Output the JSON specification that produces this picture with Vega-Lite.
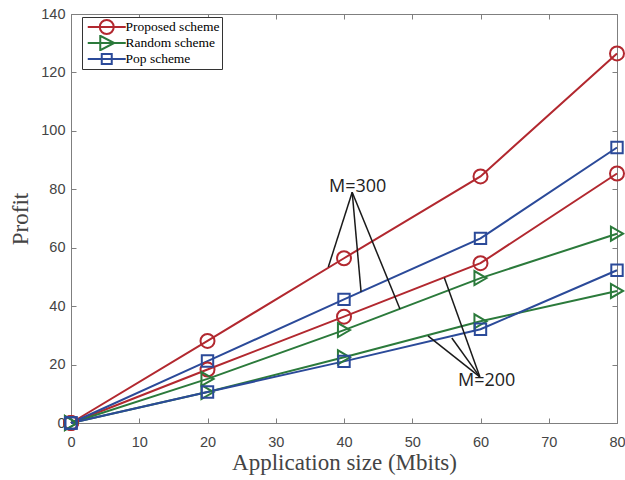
{
  "$schema": "https://vega.github.io/schema/vega-lite/v6.json",
  "width": 546,
  "height": 409,
  "autosize": "none",
  "padding": {"left": 71, "top": 14, "right": 8, "bottom": 57},
  "background": "white",
  "config": {
    "view": {"stroke": "#7f7f7f", "strokeWidth": 1},
    "axis": {
      "domainColor": "#7f7f7f",
      "tickColor": "#7f7f7f",
      "grid": false,
      "labelFlush": false,
      "labelFont": "Liberation Sans",
      "labelFontSize": 14.5,
      "labelColor": "#444444",
      "titleFont": "Liberation Serif",
      "titleFontSize": 23,
      "titleFontWeight": "normal",
      "titleColor": "#444444"
    }
  },
  "layer": [
    {
      "data": {"values": [
        {"scheme": "Proposed scheme", "M": 300, "x": 0, "y": 0},
        {"scheme": "Proposed scheme", "M": 300, "x": 20, "y": 28.1},
        {"scheme": "Proposed scheme", "M": 300, "x": 40, "y": 56.4},
        {"scheme": "Proposed scheme", "M": 300, "x": 60, "y": 84.4},
        {"scheme": "Proposed scheme", "M": 300, "x": 80, "y": 126.5},
        {"scheme": "Proposed scheme", "M": 200, "x": 0, "y": 0},
        {"scheme": "Proposed scheme", "M": 200, "x": 20, "y": 18.3},
        {"scheme": "Proposed scheme", "M": 200, "x": 40, "y": 36.4},
        {"scheme": "Proposed scheme", "M": 200, "x": 60, "y": 54.7},
        {"scheme": "Proposed scheme", "M": 200, "x": 80, "y": 85.4},
        {"scheme": "Random scheme", "M": 300, "x": 0, "y": 0},
        {"scheme": "Random scheme", "M": 300, "x": 20, "y": 15.1},
        {"scheme": "Random scheme", "M": 300, "x": 40, "y": 31.8},
        {"scheme": "Random scheme", "M": 300, "x": 60, "y": 49.6},
        {"scheme": "Random scheme", "M": 300, "x": 80, "y": 64.8},
        {"scheme": "Random scheme", "M": 200, "x": 0, "y": 0},
        {"scheme": "Random scheme", "M": 200, "x": 20, "y": 10.6},
        {"scheme": "Random scheme", "M": 200, "x": 40, "y": 22.5},
        {"scheme": "Random scheme", "M": 200, "x": 60, "y": 34.8},
        {"scheme": "Random scheme", "M": 200, "x": 80, "y": 45.2},
        {"scheme": "Pop scheme", "M": 300, "x": 0, "y": 0},
        {"scheme": "Pop scheme", "M": 300, "x": 20, "y": 21.2},
        {"scheme": "Pop scheme", "M": 300, "x": 40, "y": 42.3},
        {"scheme": "Pop scheme", "M": 300, "x": 60, "y": 63.2},
        {"scheme": "Pop scheme", "M": 300, "x": 80, "y": 94.3},
        {"scheme": "Pop scheme", "M": 200, "x": 0, "y": 0},
        {"scheme": "Pop scheme", "M": 200, "x": 20, "y": 10.6},
        {"scheme": "Pop scheme", "M": 200, "x": 40, "y": 21.1},
        {"scheme": "Pop scheme", "M": 200, "x": 60, "y": 32.1},
        {"scheme": "Pop scheme", "M": 200, "x": 80, "y": 52.3}
      ]},
      "layer": [
        {
          "mark": {"type": "line", "strokeWidth": 2},
          "encoding": {
            "x": {"field": "x", "type": "quantitative", "scale": {"domain": [0, 80], "nice": false},
                  "axis": {"title": "Application size (Mbits)", "values": [0,10,20,30,40,50,60,70,80], "tickSize": -5, "labelPadding": 17, "titlePadding": 3}},
            "y": {"field": "y", "type": "quantitative", "scale": {"domain": [0, 140], "nice": false},
                  "axis": {"title": "Profit", "values": [0,20,40,60,80,100,120,140], "tickSize": -5, "labelPadding": 11, "titlePadding": 8}},
            "color": {"field": "scheme", "type": "nominal",
              "scale": {"domain": ["Proposed scheme", "Random scheme", "Pop scheme"], "range": ["#b2282f", "#2b7a3b", "#2b4a99"]},
              "legend": {
                "title": null,
                "orient": "none",
                "legendX": 11,
                "legendY": 3,
                "fillColor": "white",
                "strokeColor": "#333333",
                "padding": 2,
                "rowPadding": 0,
                "clipHeight": 16,
                "labelFont": "Liberation Serif",
                "labelFontSize": 13.5,
                "labelColor": "#000000",
                "labelOffset": 12,
                "symbolOffset": 16,
                "symbolSize": 100,
                "symbolStrokeWidth": 2,
                "symbolFillColor": "transparent",
                "symbolType": {"expr": "datum.value === 'Proposed scheme' ? 'M-3.8,0H3.8M-1.4,0C-1.4,-0.77 -0.77,-1.4 0,-1.4C0.77,-1.4 1.4,-0.77 1.4,0C1.4,0.77 0.77,1.4 0,1.4C-0.77,1.4 -1.4,0.77 -1.4,0Z' : (datum.value === 'Random scheme' ? 'M-3.8,0H3.8M-1.3,-1.45L1.5,0L-1.3,1.45Z' : 'M-3.8,0H3.8M-1.0,-1.0H1.0V1.0H-1.0Z')"}
              }
            },
            "detail": {"field": "M", "type": "nominal"}
          }
        },
        {
          "transform": [{"filter": "datum.scheme === 'Proposed scheme'"}],
          "mark": {"type": "point", "shape": "circle", "size": 196, "filled": false, "strokeWidth": 2, "opacity": 1, "color": "#b2282f"},
          "encoding": {
            "x": {"field": "x", "type": "quantitative"},
            "y": {"field": "y", "type": "quantitative"}
          }
        },
        {
          "transform": [{"filter": "datum.scheme === 'Random scheme'"}],
          "mark": {"type": "point", "shape": "triangle-right", "size": 196, "filled": false, "strokeWidth": 2, "opacity": 1, "color": "#2b7a3b"},
          "encoding": {
            "x": {"field": "x", "type": "quantitative"},
            "y": {"field": "y", "type": "quantitative"}
          }
        },
        {
          "transform": [{"filter": "datum.scheme === 'Pop scheme'"}],
          "mark": {"type": "point", "shape": "square", "size": 130, "filled": false, "strokeWidth": 2, "opacity": 1, "color": "#2b4a99"},
          "encoding": {
            "x": {"field": "x", "type": "quantitative"},
            "y": {"field": "y", "type": "quantitative"}
          }
        }
      ]
    },
    {
      "data": {"values": [
        {"x": 41.2, "y": 79.0, "x2": 37.7, "y2": 53.4},
        {"x": 41.2, "y": 79.0, "x2": 42.5, "y2": 44.9},
        {"x": 41.2, "y": 79.0, "x2": 48.2, "y2": 39.0},
        {"x": 59.9, "y": 15.8, "x2": 54.7, "y2": 49.7},
        {"x": 59.9, "y": 15.8, "x2": 52.3, "y2": 29.8},
        {"x": 59.9, "y": 15.8, "x2": 55.8, "y2": 29.1}
      ]},
      "mark": {"type": "rule", "color": "#1a1a1a", "strokeWidth": 1.5},
      "encoding": {
        "x": {"field": "x", "type": "quantitative", "axis": null},
        "y": {"field": "y", "type": "quantitative", "axis": null},
        "x2": {"field": "x2"},
        "y2": {"field": "y2"}
      }
    },
    {
      "data": {"values": [
        {"x": 42.0, "y": 80.8, "label": "M=300"},
        {"x": 60.9, "y": 14.4, "label": "M=200"}
      ]},
      "mark": {"type": "text", "font": "Open Sans", "fontSize": 18, "color": "#222222", "baseline": "middle"},
      "encoding": {
        "x": {"field": "x", "type": "quantitative", "axis": {"orient": "top", "labels": false, "title": null, "values": [0,10,20,30,40,50,60,70,80], "tickSize": -5, "domain": false}},
        "y": {"field": "y", "type": "quantitative", "axis": {"orient": "right", "labels": false, "title": null, "values": [0,20,40,60,80,100,120,140], "tickSize": -5, "domain": false}},
        "text": {"field": "label"}
      }
    }
  ],
  "resolve": {"axis": {"x": "independent", "y": "independent"}}
}
